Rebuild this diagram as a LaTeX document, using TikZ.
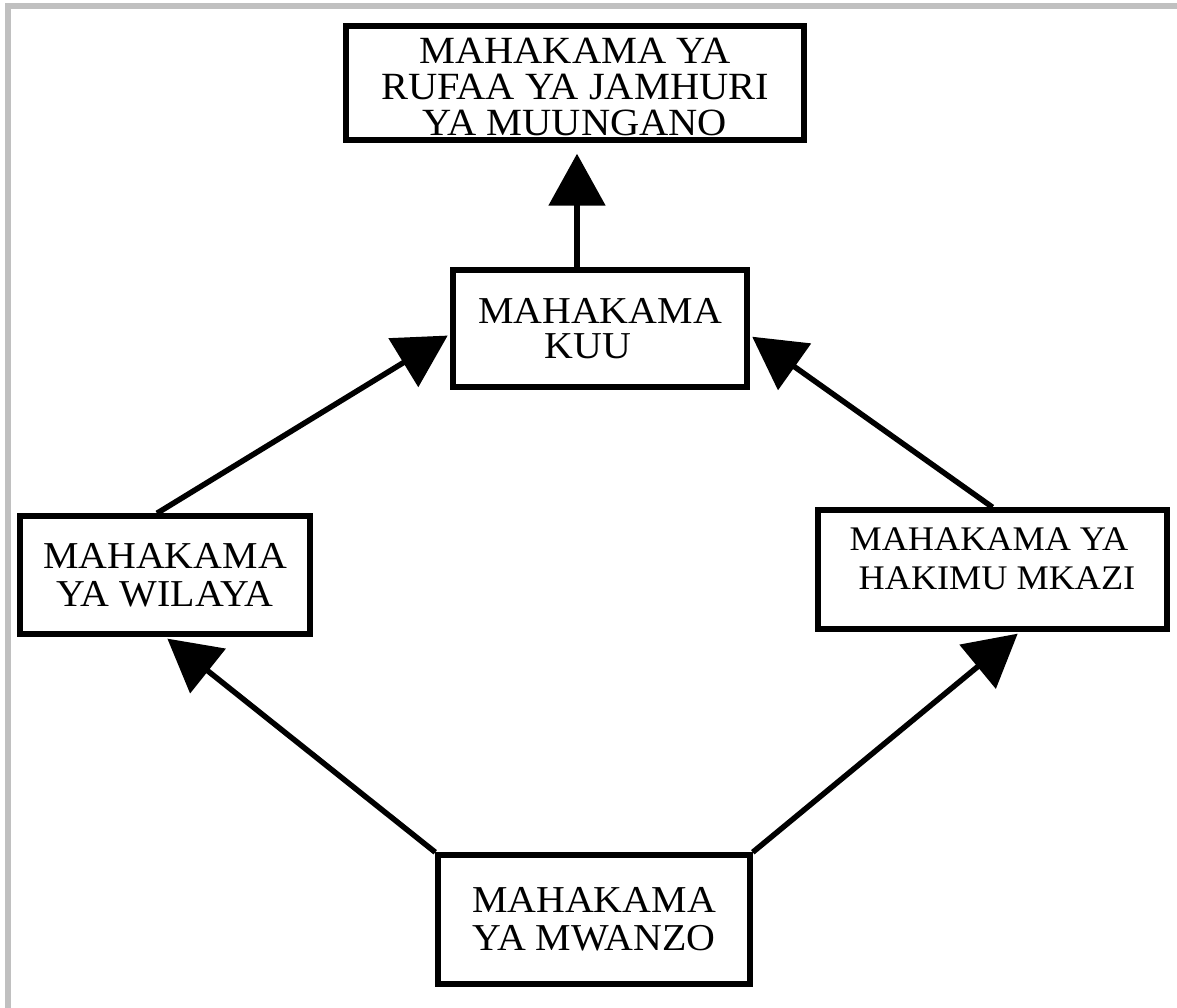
\documentclass[tikz,border=0pt]{standalone}
\usepackage{fontspec}
\setmainfont{Liberation Serif}[FakeStretch=1.05]
\usetikzlibrary{arrows.meta}
\definecolor{framegray}{RGB}{192,192,192}
\tikzset{
  box/.style={draw, line width=5.5pt, inner sep=0pt, align=center},
  arr/.style={line width=5.5pt, -{Triangle[length=52pt,width=56pt]}, shorten >=3pt},
  frameline/.style={line width=5.5pt, draw=framegray}
}
\begin{document}
\begin{tikzpicture}[x=1pt,y=-1pt]
\useasboundingbox (0,0) rectangle (1177,1008);
\begin{scope}
\clip (0,0) rectangle (1177,1008);
\draw[frameline] (8,1030) -- (8,5.8) -- (1200,5.8);
\end{scope}

\node[box, minimum width=458pt, minimum height=114pt, font=\fontsize{38.5pt}{36pt}\selectfont] (sup) at (575,83) {\raisebox{0pt}[\dimexpr\height+9pt\relax][\dimexpr\depth-9pt\relax]{\begin{tabular}{@{}c@{}}MAHAKAMA YA\\RUFAA YA JAMHURI\\YA MUUNGANO\end{tabular}}};
\node[box, minimum width=294pt, minimum height=117pt, font=\fontsize{38pt}{35pt}\selectfont] (kuu) at (600,328.5) {MAHAKAMA\\KUU\hspace*{24pt}};
\node[box, minimum width=290pt, minimum height=118pt, font=\fontsize{38pt}{38pt}\selectfont] (wil) at (165,575) {MAHAKAMA\\YA WILAYA};
\node[box, minimum width=349pt, minimum height=119pt, font=\fontsize{34.5pt}{39pt}\selectfont] (hak) at (992.5,569.5) {\raisebox{0pt}[\height][\dimexpr\depth+14pt\relax]{\begin{tabular}{@{}l@{}}MAHAKAMA YA\\\ HAKIMU MKAZI\end{tabular}}};
\node[box, minimum width=312pt, minimum height=129pt, font=\fontsize{38pt}{38pt}\selectfont] (mw) at (594,919.5) {MAHAKAMA\\YA MWANZO};

\draw[arr, shorten >=11pt] ([xshift=-23pt]kuu.north) -- ([xshift=2pt]sup.south);
\draw[arr] ([xshift=-8pt]wil.north) -- ([yshift=-5.5pt]kuu.west);
\draw[arr] (hak.north) -- ([yshift=-6.5pt]kuu.east);
\draw[arr] (mw.north west) -- (wil.south);
\draw[arr] (mw.north east) -- ([xshift=27.5pt]hak.south);
\end{tikzpicture}
\end{document}
